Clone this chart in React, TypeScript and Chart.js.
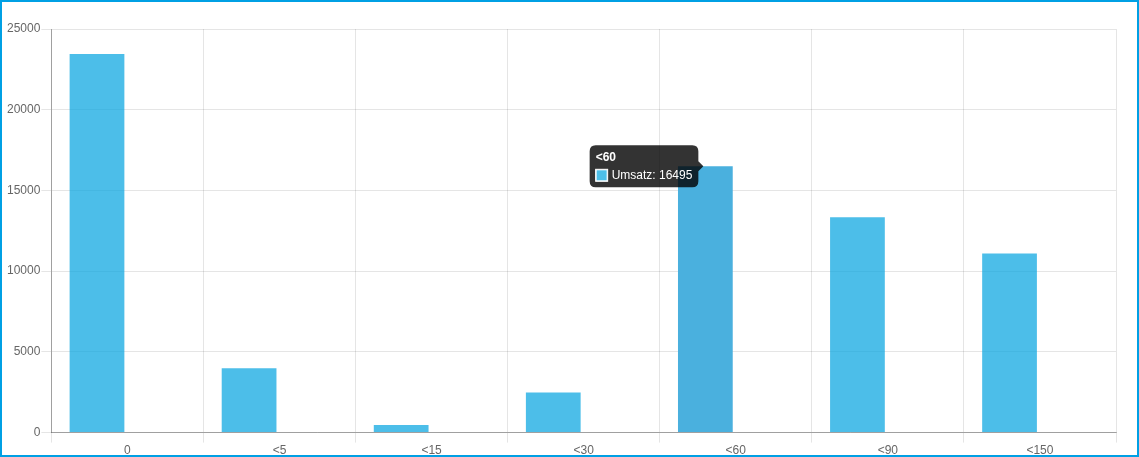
import React, { useEffect, useRef } from "react";
import { Chart, registerables } from "chart.js";

Chart.register(...registerables);

const categories = ["0", "<5", "<15", "<30", "<60", "<90", "<150"];
const umsatzValues = [23450, 3990, 470, 2480, 16495, 13340, 11100];
const emptyValues: number[] = [];
const yTickMax = 25000;
const yTickStep = 5000;

const BAR = "rgba(0,163,224,0.7)";
const BAR_HOVER = "#4ab0de";
const FONT = "'Liberation Sans', Arial, sans-serif";

export default function App() {
  const ref = useRef<HTMLCanvasElement | null>(null);
  useEffect(() => {
    document.body.style.margin = "0";
    document.body.style.overflow = "hidden";
    const canvas = ref.current!;
    const chart = new Chart(canvas, {
      type: "bar",
      data: {
        labels: categories,
        datasets: [
          {
            label: "Umsatz",
            data: umsatzValues,
            backgroundColor: BAR,
            hoverBackgroundColor: BAR_HOVER,
            borderWidth: 0,
          },
          {
            label: "",
            data: emptyValues,
            backgroundColor: BAR,
          },
        ],
      },
      options: {
        responsive: false,
        animation: false,
        layout: { padding: { top: 29, right: 23, left: 6, bottom: 0 } },
        font: { family: FONT, size: 12 },
        plugins: {
          legend: { display: false },
          tooltip: {
            backgroundColor: "rgba(0,0,0,0.8)",
            titleFont: { family: FONT, size: 12, weight: "bold", lineHeight: 1 },
            bodyFont: { family: FONT, size: 12, lineHeight: 1 },
            padding: 6,
            cornerRadius: 6,
            caretSize: 5,
            titleMarginBottom: 6,
            boxPadding: 2,
            callbacks: {
              label: (ctx: any) => `${ctx.dataset.label}: ${String(ctx.raw)}`,
              labelColor: () => ({
                borderColor: "#ffffff",
                backgroundColor: "#4dbfe9",
                borderWidth: 1,
              }),
            },
          },
        },
        scales: {
          x: {
            grid: { color: "rgba(0,0,0,0.1)", tickLength: 10 },
            border: { color: "rgba(0,0,0,0.3)" },
            ticks: { color: "#666", font: { family: FONT, size: 12 }, padding: 1 },
          },
          y: {
            min: 0,
            max: yTickMax,
            grid: { color: "rgba(0,0,0,0.1)", tickLength: 10 },
            border: { color: "rgba(0,0,0,0.3)" },
            ticks: {
              stepSize: yTickStep,
              color: "#666",
              font: { family: FONT, size: 12 },
              padding: 1,
              callback: (v: any) => String(v),
            },
          },
        },
      },
    });
    const meta = chart.getDatasetMeta(0);
    const el = meta.data[4];
    chart.setActiveElements([{ datasetIndex: 0, index: 4 }]);
    chart.tooltip!.setActiveElements([{ datasetIndex: 0, index: 4 }], { x: el.x, y: el.y });
    chart.update();
    return () => chart.destroy();
  }, []);
  return (
    <div style={{ position: "fixed", left: 0, top: 0, width: 1139, height: 457, background: "#fff", overflow: "hidden" }}>
      <canvas
        ref={ref}
        width={1139}
        height={459}
        style={{ display: "block", position: "absolute", left: 0, top: 0 }}
      />
      <div
        style={{
          position: "absolute",
          left: 0,
          top: 0,
          width: 1139,
          height: 457,
          border: "2px solid #00a0e4",
          boxSizing: "border-box",
          pointerEvents: "none",
        }}
      />
    </div>
  );
}
